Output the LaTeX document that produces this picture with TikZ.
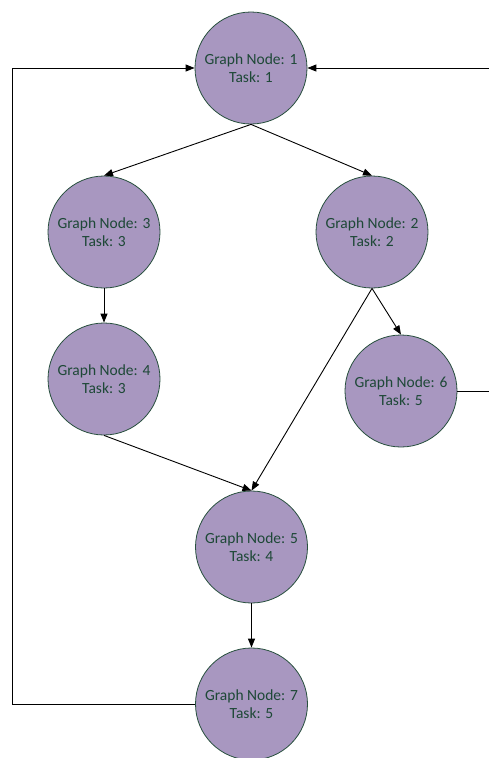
\documentclass[tikz,border=0pt]{standalone}
\usepackage{fontspec}
\setmainfont{Carlito}
\usetikzlibrary{arrows.meta}
\definecolor{nodefill}{RGB}{168,151,192}
\definecolor{nodeline}{RGB}{40,80,62}
\definecolor{nodetext}{RGB}{30,72,55}
\begin{document}
\begin{tikzpicture}[x=1pt,y=-1pt,
  gnode/.style={circle, draw=nodeline, fill=nodefill, line width=0.8pt,
    minimum size=112pt, inner sep=0pt, text=nodetext, align=center,
    font=\fontsize{15.5}{18.5}\selectfont},
  link/.style={draw=black, line width=0.9pt,
    -{Triangle[length=9pt,width=7pt]}}]
\useasboundingbox (0,0) rectangle (488,758);
\node[gnode] (n1) at (251,68)  {Graph Node: 1\\Task: 1};
\node[gnode] (n3) at (104,232) {Graph Node: 3\\Task: 3};
\node[gnode] (n2) at (372,232) {Graph Node: 2\\Task: 2};
\node[gnode] (n4) at (104,379) {Graph Node: 4\\Task: 3};
\node[gnode] (n6) at (401,391) {Graph Node: 6\\Task: 5};
\node[gnode] (n5) at (251.5,547) {Graph Node: 5\\Task: 4};
\node[gnode] (n7) at (251.5,704) {Graph Node: 7\\Task: 5};
\coordinate (lft) at (12,704);
\coordinate (rgt) at (492,391);
\draw[link] (n1.south) -- (n3.north);
\draw[link] (n1.south) -- (n2.north);
\draw[link] (n3.south) -- (n4.north);
\draw[link] (n4.south) -- (n5.north);
\draw[link] (n2.south) -- (n5.north);
\draw[link] (n2.south) -- (n6.north);
\draw[link] (n5.south) -- (n7.north);
\draw[link] (n7.west) -- (lft) |- (n1.west);
\draw[link] (n6.east) -- (rgt) |- (n1.east);
\end{tikzpicture}
\end{document}
